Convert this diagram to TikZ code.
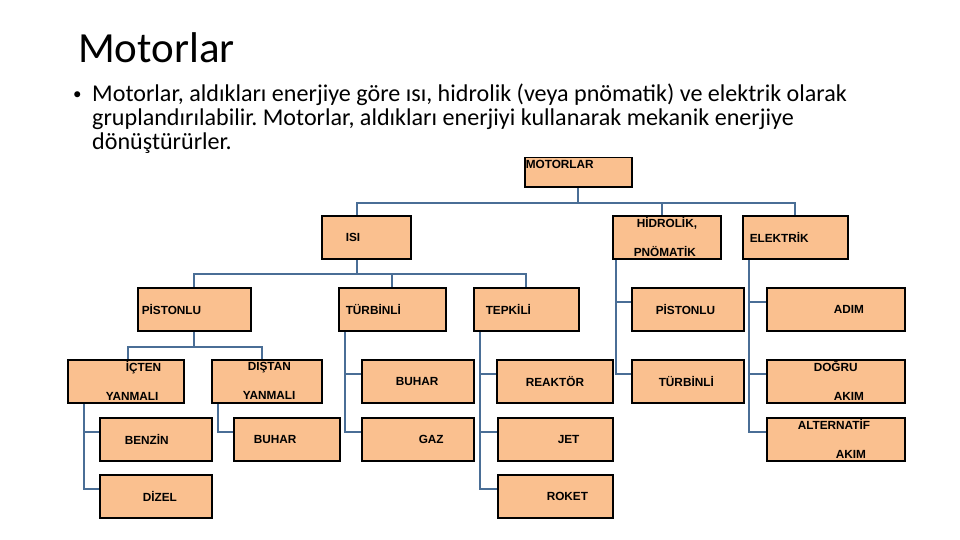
\documentclass[tikz,border=0pt]{standalone}
\usepackage{fontspec}
\setmainfont{Carlito}
\newfontfamily\kutufont{Liberation Sans}
\usetikzlibrary{backgrounds}
\definecolor{seftali}{RGB}{250,192,143}
\definecolor{hat}{RGB}{74,110,150}
\newcommand{\kutuyazi}{\kutufont\bfseries\fontsize{11.8}{29}\selectfont}
\frenchspacing

\begin{document}
\begin{tikzpicture}[x=1pt,y=-1pt,
  kutu/.style={draw,line width=1.5pt,fill=seftali,inner sep=0pt,anchor=north west,minimum height=43pt,align=left,font=\kutuyazi},
  bag/.style={draw=hat,line width=2pt}]
\useasboundingbox (0,0) rectangle (960,540);
% baslik ve metin
\node[anchor=base west,inner sep=0pt,font=\fontsize{43}{52}\selectfont] (baslik) at (78,63) {Motorlar};
\node[anchor=base west,inner sep=0pt,font=\fontsize{17}{17}\selectfont] (madde) at (73,100) {•};
\node[anchor=north west,inner sep=0pt,align=left,font=\fontsize{24.1}{24}\selectfont] (metin) at (92,84) {Motorlar, aldıkları enerjiye göre ısı, hidrolik (veya pnömatik) ve elektrik olarak\\gruplandırılabilir. Motorlar, aldıkları enerjiyi kullanarak mekanik enerjiye\\dönüştürürler.};
% kutular
\node[kutu,text width=107pt,text height=11pt,text depth=18pt,minimum height=0pt] (motor) at (524,157) {\hspace*{1pt}MOTORLAR};
\node[kutu,text width=89pt] (isi) at (321,215) {\hspace*{24pt}ISI};
\node[kutu,text width=108pt] (hidrolik) at (612,215) {\hspace*{24pt}HİDROLİK,\\\hspace*{21pt}PNÖMATİK};
\node[kutu,text width=105pt] (elektrik) at (742,215) {\hspace*{7pt}ELEKTRİK};
\node[kutu,text width=113pt] (pistonlu) at (137,287) {\hspace*{4pt}PİSTONLU};
\node[kutu,text width=107pt] (turbinli) at (338,287) {\hspace*{7pt}TÜRBİNLİ};
\node[kutu,text width=105pt] (tepkili) at (473,287) {\hspace*{12pt}TEPKİLİ};
\node[kutu,text width=112pt] (hpistonlu) at (631,287) {\hspace*{24pt}PİSTONLU};
\node[kutu,text width=138pt] (adim) at (766,287) {\hspace*{67pt}ADIM};
\node[kutu,text width=116pt] (icten) at (67,359) {\hspace*{58pt}İÇTEN\\\hspace*{38pt}YANMALI};
\node[kutu,text width=110pt] (distan) at (211,359) {\hspace*{36pt}DIŞTAN\\\hspace*{31pt}YANMALI};
\node[kutu,text width=112pt] (tbuhar) at (361,359) {\hspace*{34pt}BUHAR};
\node[kutu,text width=116pt] (reaktor) at (496,359) {\hspace*{29pt}REAKTÖR};
\node[kutu,text width=112pt] (hturbinli) at (631,359) {\hspace*{27pt}TÜRBİNLİ};
\node[kutu,text width=138pt] (dogru) at (766,359) {\hspace*{47pt}DOĞRU\\\hspace*{67pt}AKIM};
\node[kutu,text width=112pt] (benzin) at (99,417) {\hspace*{25pt}BENZİN};
\node[kutu,text width=106pt] (dbuhar) at (233,417) {\hspace*{20pt}BUHAR};
\node[kutu,text width=112pt] (gaz) at (361,417) {\hspace*{57pt}GAZ};
\node[kutu,text width=115pt] (jet) at (497,417) {\hspace*{60pt}JET};
\node[kutu,text width=138pt] (alternatif) at (766,417) {\hspace*{31pt}ALTERNATİF\\\hspace*{69pt}AKIM};
\node[kutu,text width=112pt] (dizel) at (99,474) {\hspace*{43pt}DİZEL};
\node[kutu,text width=115pt] (roket) at (497,474) {\hspace*{49pt}ROKET};
% baglantilar
\begin{scope}[on background layer]
\draw[bag] (motor.south) -- ++(0,15) coordinate (m1);
\draw[bag] ([xshift=-9.5pt]isi.north) |- (m1) -| ([xshift=-5pt]hidrolik.north);
\draw[bag] (m1) -| (elektrik.north);
\draw[bag] ([xshift=-9.5pt]isi.south) -- ++(0,14) coordinate (i1);
\draw[bag] (pistonlu.north) |- (i1) -| (tepkili.north);
\draw[bag] (i1) -| (turbinli.north);
\draw[bag] (pistonlu.south) -- ++(0,15) coordinate (p1);
\draw[bag] ([xshift=2pt]icten.north) |- (p1) -| ([xshift=-5pt]distan.north);
\foreach \c in {benzin,dizel}
  \draw[bag] ([xshift=17pt]icten.south west) |- ([yshift=7pt]\c.west);
\draw[bag] ([xshift=7pt]distan.south west) |- ([yshift=7pt]dbuhar.west);
\foreach \c in {tbuhar,gaz}
  \draw[bag] ([xshift=7pt]turbinli.south west) |- ([yshift=7pt]\c.west);
\foreach \c in {reaktor,jet,roket}
  \draw[bag] ([xshift=7pt]tepkili.south west) |- ([yshift=7pt]\c.west);
\foreach \c in {hpistonlu,hturbinli}
  \draw[bag] ([xshift=4pt]hidrolik.south west) |- ([yshift=7pt]\c.west);
\foreach \c in {adim,dogru,alternatif}
  \draw[bag] ([xshift=7pt]elektrik.south west) |- ([yshift=7pt]\c.west);
\end{scope}
\end{tikzpicture}
\end{document}
